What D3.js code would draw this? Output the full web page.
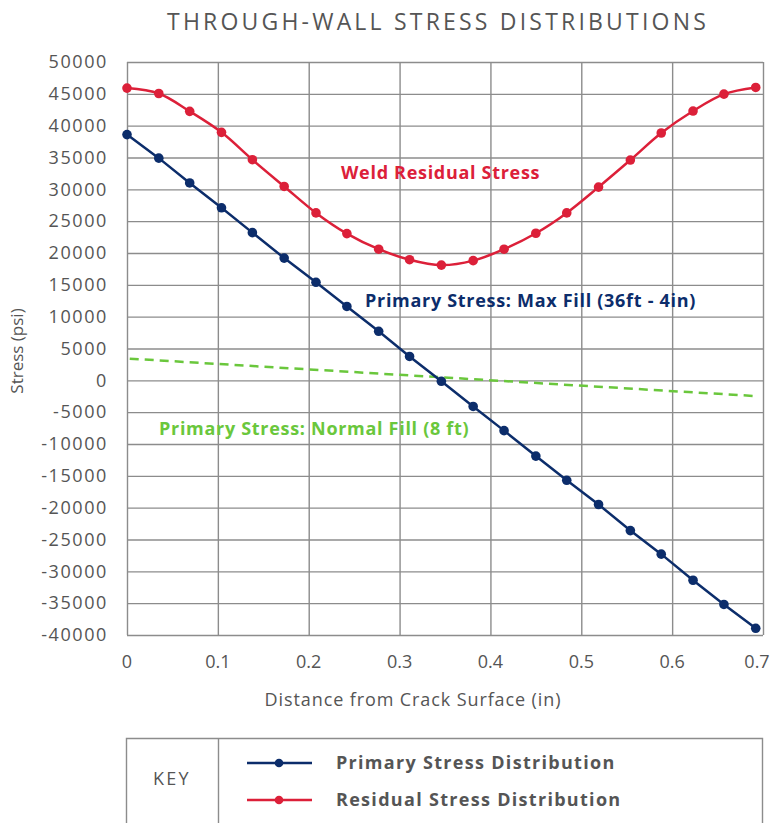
<!DOCTYPE html>
<html>
<head>
<meta charset="utf-8">
<script src="https://cdn.jsdelivr.net/npm/d3@7"></script>
<style>
  body { margin: 0; background: #fff; }
  svg text { font-family: "Open Sans", "Lato", sans-serif; fill: #555; }
  .grid line { stroke: #8c8c8c; stroke-width: 1.4; }
  .grid path { display: none; }
  .note { font-weight: 700; font-size: 18px; letter-spacing: 0.7px; }
</style>
</head>
<body>
<script>
// distance from crack surface (in)
var distance = [0, 0.035, 0.069, 0.104, 0.138, 0.173, 0.208, 0.242, 0.277, 0.311, 0.346,
  0.381, 0.415, 0.450, 0.484, 0.519, 0.554, 0.588, 0.623, 0.657, 0.692];
// primary stress, max fill (psi)
var primaryMax = [38600, 34900, 31000, 27100, 23200, 19200, 15400, 11600, 7700, 3750, -150,
  -4100, -7900, -11900, -15700, -19500, -23600, -27300, -31400, -35200, -38950];
// weld residual stress (psi)
var residual = [45900, 45050, 42250, 38950, 34650, 30450, 26300, 23050, 20600, 18950, 18100,
  18800, 20600, 23100, 26300, 30350, 34600, 38850, 42300, 44950, 46000];
// primary stress, normal fill (psi) - straight dashed line
var normalX = [0.003, 0.689];
var normalFill = [3400, -2450];

var yTicks = [50000, 45000, 40000, 35000, 30000, 25000, 20000, 15000, 10000, 5000, 0,
  -5000, -10000, -15000, -20000, -25000, -30000, -35000, -40000];
var xTicks = [0, 0.1, 0.2, 0.3, 0.4, 0.5, 0.6, 0.7];

var navy = "#0c2d6b", red = "#dc2039", green = "#6ac73c";

var W = 773, H = 823;
var plotL = 127, plotR = 763, plotT = 62, plotB = 635;

var svg = d3.select("body").append("svg").attr("width", W).attr("height", H);

var x = d3.scaleLinear().domain([0, 0.7]).range([plotL, plotR]);
var y = d3.scaleLinear().domain([-40000, 50000]).range([plotB, plotT]);

// title
svg.append("text")
  .attr("x", 438).attr("y", 30)
  .attr("text-anchor", "middle")
  .style("font-size", "23px")
  .style("letter-spacing", "3.2px")
  .text("THROUGH-WALL STRESS DISTRIBUTIONS");

// grid
svg.append("g").attr("class", "grid")
  .attr("transform", "translate(" + plotL + ",0)")
  .call(d3.axisLeft(y).tickValues(yTicks).tickSize(-(plotR - plotL)).tickFormat(""));
svg.append("g").attr("class", "grid")
  .attr("transform", "translate(0," + plotB + ")")
  .call(d3.axisBottom(x).tickValues(xTicks).tickSize(-(plotB - plotT)).tickFormat(""));

// tick labels
svg.append("g").selectAll("text").data(yTicks).join("text")
  .attr("x", 108).attr("y", function (d) { return y(d); })
  .attr("dy", "0.35em")
  .attr("text-anchor", "end")
  .style("font-size", "18px")
  .style("letter-spacing", "1.6px")
  .text(function (d) { return d; });
svg.append("g").selectAll("text").data(xTicks).join("text")
  .attr("x", function (d) { return Math.min(x(d), 757); }).attr("y", 662)
  .attr("dy", "0.35em")
  .attr("text-anchor", "middle")
  .style("font-size", "18px")
  .text(function (d) { return d; });

// axis titles
svg.append("text")
  .attr("x", 413).attr("y", 706)
  .attr("text-anchor", "middle")
  .style("font-size", "18px")
  .style("letter-spacing", "0.9px")
  .text("Distance from Crack Surface (in)");
svg.append("text")
  .attr("transform", "translate(23,351) rotate(-90)")
  .attr("text-anchor", "middle")
  .style("font-size", "17px")
  .text("Stress (psi)");

// normal fill dashed line
var normalPts = normalX.map(function (d, i) { return [d, normalFill[i]]; });
svg.append("path")
  .datum(normalPts)
  .attr("fill", "none")
  .attr("stroke", green)
  .attr("stroke-width", 2.5)
  .attr("stroke-dasharray", "9,6")
  .attr("d", d3.line().x(function (d) { return x(d[0]); }).y(function (d) { return y(d[1]); }));

function drawSeries(vals, color, curve) {
  var pts = distance.map(function (d, i) { return [d, vals[i]]; });
  svg.append("path")
    .datum(pts)
    .attr("fill", "none")
    .attr("stroke", color)
    .attr("stroke-width", 2.5)
    .attr("d", d3.line().curve(curve)
      .x(function (d) { return x(d[0]); }).y(function (d) { return y(d[1]); }));
  svg.append("g").selectAll("circle").data(pts).join("circle")
    .attr("cx", function (d) { return x(d[0]); })
    .attr("cy", function (d) { return y(d[1]); })
    .attr("r", 4.8)
    .attr("fill", color);
}

drawSeries(residual, red, d3.curveCatmullRom);
drawSeries(primaryMax, navy, d3.curveLinear);

// annotations
svg.append("text").attr("class", "note").attr("x", 341).attr("y", 179)
  .style("fill", red).text("Weld Residual Stress");
svg.append("text").attr("class", "note").attr("x", 365).attr("y", 307)
  .style("fill", navy).text("Primary Stress: Max Fill (36ft - 4in)");
svg.append("text").attr("class", "note").attr("x", 159).attr("y", 435)
  .style("fill", green).text("Primary Stress: Normal Fill (8 ft)");

// key box
var key = svg.append("g");
key.append("path")
  .attr("d", "M126.5,823V738.5H762.5V823M218.5,738.5V823")
  .attr("fill", "none")
  .attr("stroke", "#8c8c8c")
  .attr("stroke-width", 1.4);
key.append("text").attr("x", 153).attr("y", 779).attr("dy", "0.35em")
  .style("font-size", "18px").style("letter-spacing", "2.2px").text("KEY");

var keyItems = [
  { label: "Primary Stress Distribution", color: navy, y: 763 },
  { label: "Residual Stress Distribution", color: red, y: 800 }
];
keyItems.forEach(function (k) {
  key.append("line").attr("x1", 247).attr("x2", 312).attr("y1", k.y).attr("y2", k.y)
    .attr("stroke", k.color).attr("stroke-width", 2.5);
  key.append("circle").attr("cx", 279).attr("cy", k.y).attr("r", 4.3).attr("fill", k.color);
  key.append("text").attr("x", 336).attr("y", k.y).attr("dy", "0.35em")
    .style("font-size", "18px").style("font-weight", "700").style("letter-spacing", "1.3px")
    .text(k.label);
});
</script>
</body>
</html>
